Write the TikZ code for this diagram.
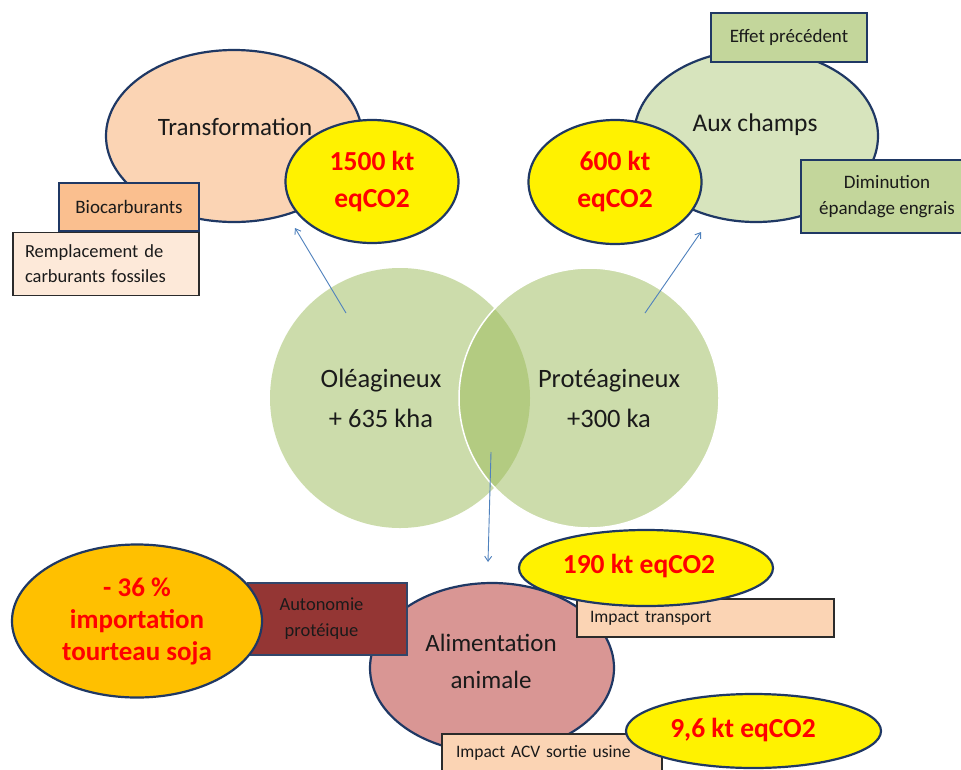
\documentclass[tikz,border=0pt]{standalone}
\usepackage{fontspec}
\setmainfont{Carlito}
\usetikzlibrary{shapes.geometric,arrows.meta}
\definecolor{navy}{HTML}{1F3864}
\definecolor{edgegray}{HTML}{2B2B2B}
\definecolor{peach}{HTML}{FBD4B4}
\definecolor{peachdark}{HTML}{FABF8F}
\definecolor{peachlight}{HTML}{FDE9D9}
\definecolor{greenlight}{HTML}{D7E4BD}
\definecolor{greenmid}{HTML}{C3D69B}
\definecolor{vennfill}{HTML}{9BBB59}
\definecolor{orangefill}{HTML}{FFC000}
\definecolor{brick}{HTML}{943634}
\definecolor{rosefill}{HTML}{D99694}
\definecolor{arrowblue}{HTML}{4F81BD}
\definecolor{txt}{HTML}{1A1A1A}
\begin{document}
\begin{tikzpicture}[x=1pt,y=-1pt,
  ell/.style={ellipse, draw=navy, line width=2.2pt, inner sep=0pt},
  boxthick/.style={rectangle, draw=navy, line width=2.2pt, inner sep=0pt},
  boxthin/.style={rectangle, draw=edgegray, line width=1.3pt, inner sep=0pt},
  bigtxt/.style={text=txt, font=\fontsize{25}{37}\selectfont, align=center},
  smalltxt/.style={text=txt, font=\fontsize{17.5}{26}\selectfont},
  toptxt/.style={text=txt, font=\fontsize{19}{26}\selectfont},
  redtxt/.style={text=red, font=\bfseries\fontsize{27.5}{37}\selectfont, align=center},
  venn/.style={circle, fill=vennfill, fill opacity=0.5, minimum size=260pt, inner sep=0pt},
  link/.style={arrowblue, line width=0.9pt, -{Straight Barb[length=5pt,width=7pt]}}
]
\useasboundingbox (0,0) rectangle (961,769);
\clip (0,0) rectangle (961,769);
\fill[white] (0,0) rectangle (961,769);

% Venn circles
\node[venn] (ole) at (400,398) {};
\node[venn, draw=white, line width=1.5pt] (prot) at (589,398) {};
\node[bigtxt, font=\fontsize{26.5}{40}\selectfont] (oletxt) at (381,398) {Oléagineux\\+ 635 kha};
\node[bigtxt, font=\fontsize{26.5}{40}\selectfont] (prottxt) at (609,398) {Protéagineux\\+300 ka};

% connectors
\coordinate (a1s) at (346,313);
\coordinate (a1e) at (295,228);
\coordinate (a2s) at (645,313);
\coordinate (a2e) at (701,232);
\coordinate (a3s) at (491,452);
\coordinate (a3e) at (488,562);
\draw[link] (a1s) -- (a1e);
\draw[link] (a2s) -- (a2e);
\draw[link] (a3s) -- (a3e);

% Transformation group
\node[ell, fill=peach, minimum width=256pt, minimum height=172pt] (tr) at (234,136) {};
\node[bigtxt] (trtxt) at (235,127) {Transformation};
\node[boxthick, fill=peachdark, minimum width=140pt, minimum height=48pt, toptxt] (bio) at (129,207) {Biocarburants};
\node[boxthin, fill=peachlight, minimum height=63pt, inner xsep=12pt, text width=162pt, align=left, toptxt, font=\fontsize{18.5}{25}\selectfont] (remp) at (106,264) {Remplacement de\\carburants fossiles};
\node[ell, fill=yellow, minimum width=173pt, minimum height=123pt, redtxt] (y1500) at (372,181.5) {1500 kt\\eqCO2};

% Aux champs group
\node[ell, fill=greenlight, minimum width=244pt, minimum height=172pt] (ac) at (756,136) {};
\node[bigtxt, font=\fontsize{25.5}{37}\selectfont] (actxt) at (755,125) {Aux champs};
\node[boxthick, fill=greenmid, minimum width=156pt, minimum height=49pt, toptxt] (effet) at (789,37.5) {Effet précédent};
\node[boxthick, fill=greenmid, minimum width=172pt, minimum height=73pt, toptxt, align=center] (dimin) at (887,196.5) {Diminution\\épandage engrais};
\node[ell, fill=yellow, minimum width=173pt, minimum height=124pt, redtxt] (y600) at (615,182) {600 kt\\eqCO2};

% Alimentation group
\node[ell, fill=rosefill, minimum width=244pt, minimum height=170pt] (alim) at (492,668) {};
\node[bigtxt] (alimtxt) at (491,661.5) {Alimentation\\animale};
\node[boxthick, draw=navy!80!gray, fill=brick, minimum width=159pt, minimum height=72pt, text=txt, font=\fontsize{18.5}{26}\selectfont, align=center, text width=150pt] (auto) at (327.5,619) {\hspace*{-12pt}Autonomie\\\hspace*{-12pt}protéique};
\node[ell, fill=orangefill, minimum width=250pt, minimum height=153pt, redtxt, font=\bfseries\fontsize{27}{32}\selectfont] (orange) at (137,621) {- 36 \%\\importation\\tourteau soja};
\node[boxthin, fill=peach, minimum height=38pt, inner xsep=13pt, text width=231pt, align=left, smalltxt] (transp) at (705.5,618) {Impact transport};
\node[ell, fill=yellow, minimum width=254pt, minimum height=76pt] (y190) at (646,568) {};
\node[redtxt] (y190txt) at (639,566) {190 kt eqCO2};
\node[boxthin, fill=peach, minimum height=38pt, inner xsep=14pt, text width=192pt, align=left, smalltxt] (acv) at (552,753) {Impact ACV sortie usine};
\node[ell, fill=yellow, minimum width=255pt, minimum height=74pt] (y96) at (753.5,731) {};
\node[redtxt] (y96txt) at (743,730) {9,6 kt eqCO2};
\end{tikzpicture}
\end{document}
